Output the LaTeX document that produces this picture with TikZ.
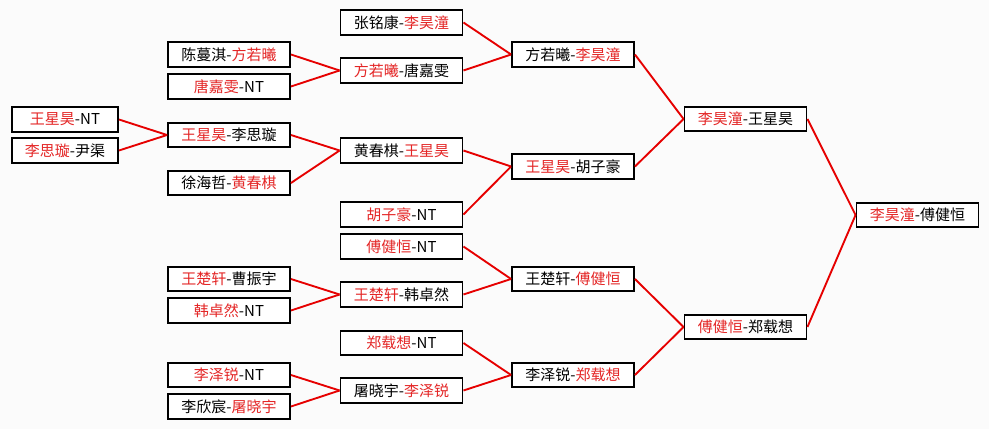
\documentclass[tikz,border=0pt]{standalone}
\usepackage{fontspec}
\setmainfont{Noto Sans CJK SC}
\usepackage{tikz}
\usetikzlibrary{positioning}

\definecolor{winred}{RGB}{228,38,38}
\definecolor{linered}{RGB}{230,0,0}
\definecolor{paper}{RGB}{251,251,251}
\newcommand{\win}[1]{\textcolor{winred}{#1}}

\begin{document}
\begin{tikzpicture}[x=0.03cm, y=-0.03cm,
    game/.style={draw, line width=1.6pt, fill=white, minimum height=0.73cm,
      inner sep=0pt, font=\fontsize{12.8}{14}\selectfont},
    wide/.style={game, minimum width=3.66cm},
    narrow/.style={game, minimum width=3.18cm},
    link/.style={draw=linered, line width=1.6pt}]
  \fill[paper] (0,0) rectangle (989,429);
  \useasboundingbox (0,0) rectangle (989,429);

  % first round
  \node[narrow] at (65,119.5) (r1a) {\win{王星昊}-NT};
  \node[narrow] at (65,150.5) (r1b) {\win{李思璇}-尹渠};

  % second round
  \node[wide] at (229,54.5) (r2a) {陈蔓淇-\win{方若曦}};
  \node[wide] at (229,86.5) (r2b) {\win{唐嘉雯}-NT};
  \node[wide] at (229,135) (r2c) {\win{王星昊}-李思璇};
  \node[wide] at (229,183) (r2d) {徐海哲-\win{黄春棋}};
  \node[wide] at (229,279) (r2e) {\win{王楚轩}-曹振宇};
  \node[wide] at (229,310.5) (r2f) {\win{韩卓然}-NT};
  \node[wide] at (229,375) (r2g) {\win{李泽锐}-NT};
  \node[wide] at (229,406.5) (r2h) {李欣宸-\win{屠晓宇}};

  % third round
  \node[wide] at (401.5,22.5) (r3a) {张铭康-\win{李昊潼}};
  \node[wide] at (401.5,70.5) (r3b) {\win{方若曦}-唐嘉雯};
  \node[wide] at (401.5,150.5) (r3c) {黄春棋-\win{王星昊}};
  \node[wide] at (401.5,214.5) (r3d) {\win{胡子豪}-NT};
  \node[wide] at (401.5,246.5) (r3e) {\win{傅健恒}-NT};
  \node[wide] at (401.5,294.5) (r3f) {\win{王楚轩}-韩卓然};
  \node[wide] at (401.5,343) (r3g) {\win{郑载想}-NT};
  \node[wide] at (401.5,390.5) (r3h) {屠晓宇-\win{李泽锐}};

  % quarter finals
  \node[wide] at (573,54.5) (r4a) {方若曦-\win{李昊潼}};
  \node[wide] at (573,166.5) (r4b) {\win{王星昊}-胡子豪};
  \node[wide] at (573,279) (r4c) {王楚轩-\win{傅健恒}};
  \node[wide] at (573,375) (r4d) {李泽锐-\win{郑载想}};

  % semi finals and final
  \node[wide] at (745.5,119) (r5a) {\win{李昊潼}-王星昊};
  \node[wide] at (745.5,327) (r5b) {\win{傅健恒}-郑载想};
  \node[wide] at (917.5,215) (r6) {\win{李昊潼}-傅健恒};

  \foreach \from/\to in {r1a/r2c, r1b/r2c,
      r2a/r3b, r2b/r3b, r2c/r3c, r2d/r3c, r2e/r3f, r2f/r3f, r2g/r3h, r2h/r3h,
      r3a/r4a, r3b/r4a, r3c/r4b, r3d/r4b, r3e/r4c, r3f/r4c, r3g/r4d, r3h/r4d,
      r4a/r5a, r4b/r5a, r4c/r5b, r4d/r5b, r5a/r6, r5b/r6}
    \draw[link] (\from.east) -- (\to.west);
\end{tikzpicture}
\end{document}
